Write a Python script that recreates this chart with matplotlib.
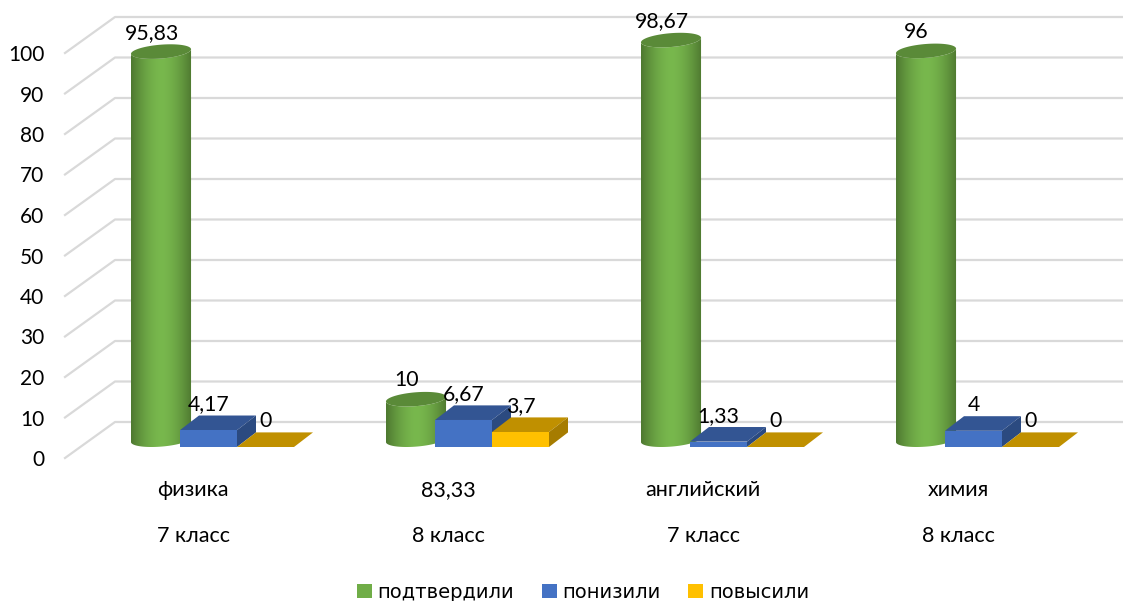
import matplotlib

matplotlib.use("Agg")
import matplotlib.pyplot as plt
import numpy as np
from matplotlib.patches import Patch, PathPatch, Polygon
from matplotlib.path import Path

plt.rcParams["font.family"] = ["Lato", "Open Sans", "DejaVu Sans"]

subjects = ["физика", "83,33", "английский", "химия"]
grades = ["7 класс", "8 класс", "7 класс", "8 класс"]
series_names = ["подтвердили", "понизили", "повысили"]
confirmed = [95.83, 10, 98.67, 96]
lowered = [4.17, 6.67, 1.33, 4]
raised = [0, 3.7, 0, 0]
confirmed_labels = ["95,83", "10", "98,67", "96"]
lowered_labels = ["4,17", "6,67", "1,33", "4"]
raised_labels = ["0", "3,7", "0", "0"]
y_ticks = list(range(0, 101, 10))

W, H = 1123, 601
PX_X = 1 / 255  # one pixel in category units
PX_Y = 100 / 405  # one pixel in value units
LEFT, ZERO, TOP = 65, 458, 53  # pixels

BAR_W = 57 * PX_X
DEPTH_X = 19 * PX_X
DEPTH_Y = 14.6 * PX_Y
BASE = 11 * PX_Y  # bars stand a little above the front edge of the floor
WALL_X = 50 * PX_X
WALL_Y = 36 * PX_Y

BLUE = ("#4472c4", "#335593", "#2b4a80")
YELLOW = ("#ffc000", "#c09000", "#a67c00")
GREEN_TOP = "#5a8a38"


def draw_box(ax, x0, value, colors):
    """Front, top and side of one flat 3D column."""
    x1 = x0 + BAR_W
    y0, y1 = BASE, BASE + value
    front, top, side = colors
    ax.add_patch(Polygon(
        [(x0 + DEPTH_X, y1 + DEPTH_Y), (x1 + DEPTH_X, y1 + DEPTH_Y), (x1, y1), (x0, y1)],
        facecolor=top, edgecolor="none", clip_on=False, zorder=3,
    ))
    if value > 0:
        ax.add_patch(Polygon([(x0, y0), (x1, y0), (x1, y1), (x0, y1)],
                             facecolor=front, edgecolor="none", clip_on=False, zorder=3))
        ax.add_patch(Polygon(
            [(x1, y0), (x1 + DEPTH_X, y0 + DEPTH_Y), (x1 + DEPTH_X, y1 + DEPTH_Y), (x1, y1)],
            facecolor=side, edgecolor="none", clip_on=False, zorder=3,
        ))


def ellipse(cx, cy, t):
    # circle sheared to the same depth direction as the boxes
    return (cx + BAR_W / 2 * np.cos(t) + DEPTH_X / 2 * np.sin(t), cy + DEPTH_Y / 2 * np.sin(t))


def draw_cylinder(ax, x0, value):
    cx = x0 + (BAR_W + DEPTH_X) / 2
    y0 = BASE + DEPTH_Y / 2
    y1 = y0 + value
    t_right = np.arctan2(DEPTH_X, BAR_W)
    t = np.linspace(t_right - np.pi, t_right, 40)  # lower half
    bx, by = ellipse(cx, y0, t)
    tx, ty = ellipse(cx, y1, t[::-1])
    verts = np.column_stack([np.r_[bx, tx], np.r_[by, ty]])
    half = np.hypot(BAR_W, DEPTH_X) / 2

    grad = np.abs(np.linspace(-1, 1, 120)) ** 1.7
    light = np.array([0x78, 0xb8, 0x4d]) / 255
    dark = np.array([0x4e, 0x78, 0x30]) / 255
    rgb = (light[None, :] * (1 - grad[:, None]) + dark[None, :] * grad[:, None])[None, :, :]
    im = ax.imshow(rgb, extent=(cx - half, cx + half, y0 - DEPTH_Y, y1 + DEPTH_Y), aspect="auto",
                   zorder=2)
    clip = PathPatch(Path(np.vstack([verts, verts[0]])), transform=ax.transData,
                     facecolor="none", edgecolor="none")
    ax.add_patch(clip)
    im.set_clip_path(clip)
    im.set_clip_box(ax.figure.bbox)  # tall cylinders rise above the y=100 edge of the axes

    t = np.linspace(0, 2 * np.pi, 80)
    ex, ey = ellipse(cx, y1, t)
    ax.add_patch(Polygon(np.column_stack([ex, ey]), facecolor=GREEN_TOP, edgecolor="none",
                         zorder=2, clip_on=False))


fig = plt.figure(figsize=(W / 100, H / 100), dpi=100)
ax = fig.add_axes([LEFT / W, 1 - ZERO / H, 1 - LEFT / W, (ZERO - TOP) / H])
x_min = (LEFT - 208.5) / 255
x_max = (W - 208.5) / 255

# floor edge + back wall lines
for v in y_ticks:
    ax.plot([x_min, x_min + WALL_X, x_max], [v, v + WALL_Y, v + WALL_Y],
            color="#d9d9d9", lw=1.6, clip_on=False, zorder=1)

label_offset = 26 * PX_Y
for i in range(len(subjects)):
    x_blue = i - BAR_W / 2
    x_green = x_blue - BAR_W
    x_yellow = x_blue + BAR_W
    draw_cylinder(ax, x_green, confirmed[i])
    draw_box(ax, x_blue, lowered[i], BLUE)
    draw_box(ax, x_yellow, raised[i], YELLOW)
    for x0, value, text in [
        (x_green, confirmed[i], confirmed_labels[i]),
        (x_blue, lowered[i], lowered_labels[i]),
        (x_yellow, raised[i], raised_labels[i]),
    ]:
        ax.text(x0 + BAR_W / 2, BASE + value + label_offset, text, ha="center", va="center",
                fontsize=15.3, color="black", zorder=5, clip_on=False)

ax.set_xlim(x_min, x_max)
ax.set_ylim(0, 100)
ax.set_yticks(y_ticks)
ax.set_xticks(np.arange(len(subjects)) - 0.06)
ax.set_xticklabels([f"{s}\n\n{g}" for s, g in zip(subjects, grades)], linespacing=1.18)
ax.tick_params(axis="y", length=0, pad=15, labelsize=15)
ax.tick_params(axis="x", length=0, pad=16, labelsize=15.5)
for spine in ax.spines.values():
    spine.set_visible(False)
ax.patch.set_alpha(0)

handles = [Patch(facecolor=c) for c in ["#70ad47", "#4472c4", "#ffc000"]]
fig.legend(handles, series_names, loc="center", bbox_to_anchor=(583 / W, 1 - 592 / H), ncol=3,
           frameon=False, prop={"family": "DejaVu Sans", "size": 14}, handlelength=0.75,
           handleheight=0.75, handletextpad=0.3, columnspacing=1.43, borderpad=0, borderaxespad=0)

fig.savefig("out.png", dpi=100)
